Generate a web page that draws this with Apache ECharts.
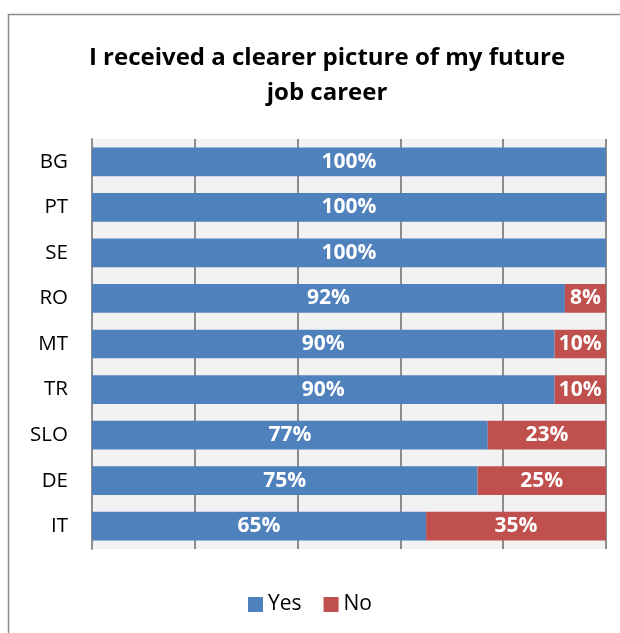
<!DOCTYPE html>
<html><head><meta charset="utf-8">
<script src="https://cdn.jsdelivr.net/npm/echarts@6/dist/echarts.min.js"></script>
<style>html,body{margin:0;padding:0;background:#fff}#c{width:620px;height:633px}</style>
</head><body><div id="c"></div>
<script>
var categories = ['BG','PT','SE','RO','MT','TR','SLO','DE','IT'];
var yesValues = [100,100,100,92,90,90,77,75,65];
var noValues = [0,0,0,8,10,10,23,25,35];
var seriesNames = ['Yes','No'];
var titleText = 'I received a clearer picture of my future\njob career';

var FONT = '"Open Sans", "Liberation Sans", sans-serif';
var chart = echarts.init(document.getElementById('c'));
function lbl(p){ return p.value > 0 ? p.value + '%' : ''; }
chart.setOption({
  animation: false,
  graphic: [{type:'rect', shape:{x:8.5,y:14.5,width:640,height:640}, style:{fill:'none', stroke:'#8c8c8c', lineWidth:1.5}, silent:true}],
  title: {text: titleText, left: 322, top: 36, textAlign:'center',
    textStyle:{fontFamily:FONT, fontWeight:'bold', fontSize:24, color:'#000', lineHeight:35}},
  legend: {bottom: 13, left: 'center', itemWidth:15, itemHeight:15, itemGap:22, icon:'rect',
    textStyle:{fontFamily:FONT, fontSize:21, color:'#000'}, data: seriesNames},
  grid: {left:92, right:14, top:139, bottom:84, show:true, backgroundColor:'#f2f2f2', borderWidth:0},
  xAxis: {type:'value', min:0, max:100, interval:20,
    axisLabel:{show:false}, axisTick:{show:false}, axisLine:{show:false},
    splitLine:{show:true, lineStyle:{color:'#8c8c8c', width:2}}},
  yAxis: {type:'category', data: categories, inverse:true,
    axisLine:{show:true, lineStyle:{color:'#8c8c8c', width:2}}, axisTick:{show:false},
    axisLabel:{fontFamily:FONT, fontSize:20.5, color:'#000', margin:24}},
  series: [
    {name:seriesNames[0], type:'bar', stack:'s', data:yesValues, barCategoryGap:'37%',
     itemStyle:{color:'#4f81bd'},
     label:{show:true, position:'inside', formatter:lbl, color:'#fff', fontFamily:FONT, fontWeight:'bold', fontSize:21}},
    {name:seriesNames[1], type:'bar', stack:'s', data:noValues, barCategoryGap:'37%',
     itemStyle:{color:'#c0504d'},
     label:{show:true, position:'inside', formatter:lbl, color:'#fff', fontFamily:FONT, fontWeight:'bold', fontSize:21}}
  ]
});
</script></body></html>
